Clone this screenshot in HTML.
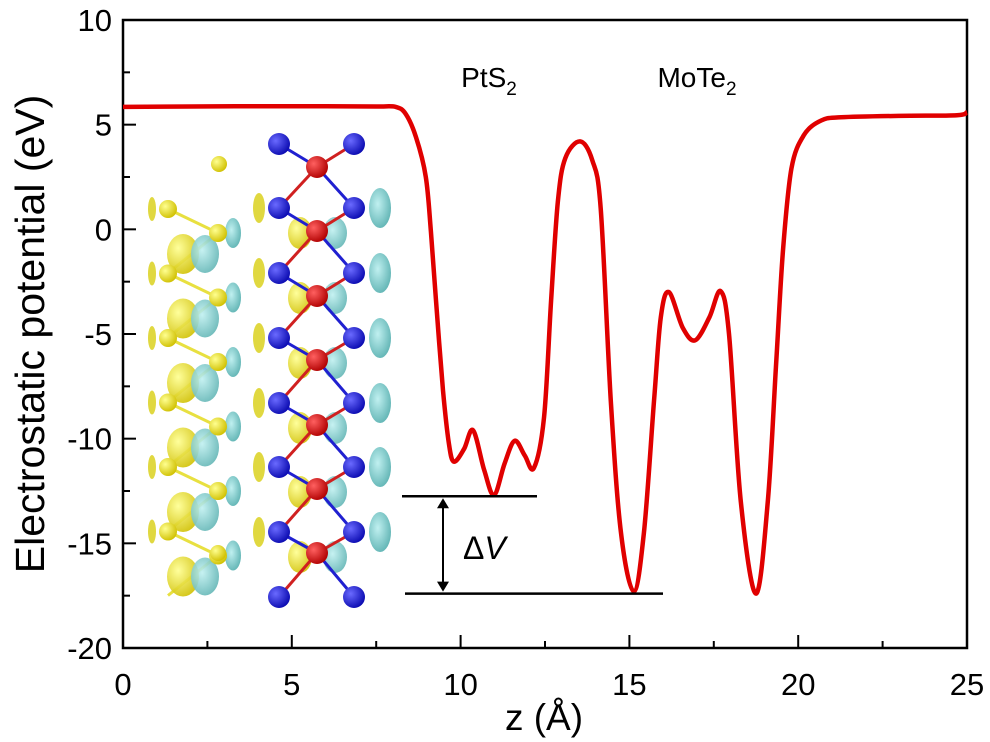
<!DOCTYPE html>
<html><head><meta charset="utf-8"><style>
html,body{margin:0;padding:0;background:#fff;}
svg{display:block;font-family:"Liberation Sans",Arial,sans-serif;}
</style></head><body>
<svg id="chart" width="990" height="742" viewBox="0 0 990 742" xmlns="http://www.w3.org/2000/svg">
<g id="inset"></g>
<g id="axes"></g>
<path id="curve" fill="none" stroke="#e00000" stroke-width="4.5" stroke-linejoin="round"/>
<g id="annot"></g>
<text x="489" y="87" font-size="28" text-anchor="middle">PtS<tspan font-size="19" dy="8">2</tspan></text>
<text x="697" y="87" font-size="28" text-anchor="middle">MoTe<tspan font-size="19" dy="8">2</tspan></text>
<text x="544" y="730" font-size="37" text-anchor="middle">z (Å)</text>
<text transform="translate(44,334) rotate(-90)" font-size="41" text-anchor="middle">Electrostatic potential (eV)</text>
</svg>
<script>
const zValues=[0,2,4,6,7.5,8.08,8.38,8.68,8.97,9.12,9.27,9.48,9.65,9.8,10.1,10.37,10.7,10.99,11.3,11.6,11.9,12.17,12.47,12.68,12.88,13.1,13.54,13.9,14.15,14.45,14.75,15.13,15.43,15.73,15.93,16.17,16.58,16.95,17.37,17.7,17.95,18.3,18.75,19.1,19.34,19.55,19.8,20.17,20.68,21.27,23,24.7,25];
const vValues=[5.85,5.87,5.88,5.88,5.87,5.85,5.5,4.4,2.5,-0.1,-3.4,-7.7,-10.2,-11.1,-10.5,-9.6,-11.5,-12.7,-11.2,-10.1,-10.8,-11.4,-9,-3.4,1.3,3.4,4.2,3.3,1.0,-8.2,-14.5,-17.3,-14.5,-8.2,-4.2,-3.0,-4.7,-5.3,-4.2,-2.95,-5,-13,-17.4,-13,-6.6,-1,2.9,4.5,5.2,5.35,5.42,5.45,5.6];
const xTicks=[0,5,10,15,20,25];
const yTicks=[10,5,0,-5,-10,-15,-20];
const vLevels=[-12.75,-17.4];
const X0=123,X1=967,Y0=648,Y1=20;
const xs=z=>X0+(z-0)/25*(X1-X0);
const ys=v=>Y0-(v+20)/30*(Y0-Y1);
const NS="http://www.w3.org/2000/svg";
function mk(tag,attrs,parent){const e=document.createElementNS(NS,tag);for(const k in attrs)e.setAttribute(k,attrs[k]);parent.appendChild(e);return e;}
const axes=document.getElementById('axes');
const frame=mk('rect',{x:X0,y:Y1,width:X1-X0,height:Y0-Y1,fill:'none',stroke:'#000','stroke-width':2.5},axes);


xTicks.forEach((t,i)=>{
  const tk=mk('line',{x1:xs(t),x2:xs(t),y1:Y0,y2:Y0-13,stroke:'#000','stroke-width':2},axes);
  
  
  if(i<xTicks.length-1){const m=mk('line',{x1:xs(t+2.5),x2:xs(t+2.5),y1:Y0,y2:Y0-7,stroke:'#000','stroke-width':2},axes);
  
  }
  const lb=mk('text',{x:xs(t),y:695,'font-size':31,'text-anchor':'middle'},axes);lb.textContent=t;
  
  
});
yTicks.forEach((t,i)=>{
  const tk=mk('line',{x1:X0,x2:X0+13,y1:ys(t),y2:ys(t),stroke:'#000','stroke-width':2},axes);
  
  
  if(i<yTicks.length-1){const m=mk('line',{x1:X0,x2:X0+7,y1:ys(t-2.5),y2:ys(t-2.5),stroke:'#000','stroke-width':2},axes);
  
  }
  const lb=mk('text',{x:112,y:ys(t)+11,'font-size':31,'text-anchor':'end'},axes);lb.textContent=t;
  
  
});
const pts=zValues.map((z,i)=>[xs(z),ys(vValues[i])]);
let d='M'+pts[0][0]+','+pts[0][1];
for(let i=0;i<pts.length-1;i++){const p0=pts[Math.max(i-1,0)],p1=pts[i],p2=pts[i+1],p3=pts[Math.min(i+2,pts.length-1)];
 const c1=[p1[0]+(p2[0]-p0[0])/6,p1[1]+(p2[1]-p0[1])/6],c2=[p2[0]-(p3[0]-p1[0])/6,p2[1]-(p3[1]-p1[1])/6];
 d+=' C'+c1[0].toFixed(1)+','+c1[1].toFixed(1)+' '+c2[0].toFixed(1)+','+c2[1].toFixed(1)+' '+p2[0].toFixed(1)+','+p2[1].toFixed(1);}
document.getElementById('curve').setAttribute('d',d);
const an=document.getElementById('annot');
const l1=mk('line',{x1:402,x2:537,y1:ys(vLevels[0]),y2:ys(vLevels[0]),stroke:'#000','stroke-width':2.5},an);


const l2=mk('line',{x1:405,x2:663,y1:ys(vLevels[1]),y2:ys(vLevels[1]),stroke:'#000','stroke-width':2.5},an);


const ar=mk('line',{x1:443,x2:443,y1:ys(vLevels[0])+4,y2:ys(vLevels[1])-4,stroke:'#000','stroke-width':2},an);


mk('path',{d:`M437,${ys(vLevels[0])+12} L443,${ys(vLevels[0])+2} L449,${ys(vLevels[0])+12}Z M437,${ys(vLevels[1])-12} L443,${ys(vLevels[1])-2} L449,${ys(vLevels[1])-12}Z`,fill:'#000'},an);
const dv=mk('text',{x:463,y:559,'font-size':32},an);dv.innerHTML='Δ<tspan font-style="italic">V</tspan>';


const ins=document.getElementById('inset');
const defs=mk('defs',{},ins);
defs.innerHTML='<radialGradient id="gb" cx="0.35" cy="0.35" r="0.7"><stop offset="0" stop-color="#6a6aff"/><stop offset="1" stop-color="#0a0ab0"/></radialGradient><radialGradient id="gr" cx="0.35" cy="0.35" r="0.7"><stop offset="0" stop-color="#ff6060"/><stop offset="1" stop-color="#b00000"/></radialGradient><radialGradient id="gy" cx="0.35" cy="0.35" r="0.7"><stop offset="0" stop-color="#ffff90"/><stop offset="1" stop-color="#d0c000"/></radialGradient><radialGradient id="gc" cx="0.4" cy="0.4" r="0.7"><stop offset="0" stop-color="#c0f0f0"/><stop offset="1" stop-color="#5ab0b0"/></radialGradient>';
const blueY=[144,208,273,338,403,467,532,597],redY=[167,231,296,360,425,489,553];
let h='';
for(let k=0;k<6;k++){const y=209+k*64.5;
 h+=`<line x1="168" y1="${y}" x2="218" y2="${y+24}" stroke="#e8e040" stroke-width="3"/><line x1="218" y1="${y+24}" x2="168" y2="${y+64}" stroke="#e8e040" stroke-width="3"/>`;
 h+=`<ellipse cx="183" cy="${y+45}" rx="16" ry="20" fill="url(#gy)" opacity="0.9"/><ellipse cx="205" cy="${y+45}" rx="14" ry="19" fill="url(#gc)" opacity="0.9"/>`;
 h+=`<ellipse cx="233" cy="${y+24}" rx="8" ry="15" fill="url(#gc)"/><ellipse cx="152" cy="${y}" rx="4" ry="12" fill="#e0d840"/>`;
 h+=`<circle cx="168" cy="${y}" r="9" fill="url(#gy)"/><circle cx="218" cy="${y+24}" r="9" fill="url(#gy)"/>`;}
h+=`<circle cx="219" cy="164" r="8" fill="url(#gy)"/><circle cx="218" cy="553" r="8" fill="url(#gy)"/>`;
blueY.forEach((y,i)=>{if(i>0&&i<7){h+=`<ellipse cx="259" cy="${y}" rx="6" ry="15" fill="#e0d840"/><ellipse cx="380" cy="${y}" rx="11" ry="20" fill="url(#gc)"/><ellipse cx="300" cy="${y+25}" rx="12" ry="16" fill="url(#gy)" opacity="0.9"/><ellipse cx="335" cy="${y+25}" rx="12" ry="16" fill="url(#gc)" opacity="0.9"/>`;}});
redY.forEach((y,i)=>{h+=`<line x1="317" y1="${y}" x2="279" y2="${blueY[i]}" stroke="#2020d0" stroke-width="3"/><line x1="317" y1="${y}" x2="354" y2="${blueY[i]}" stroke="#d02020" stroke-width="3"/><line x1="317" y1="${y}" x2="279" y2="${blueY[i+1]}" stroke="#d02020" stroke-width="3"/><line x1="317" y1="${y}" x2="354" y2="${blueY[i+1]}" stroke="#2020d0" stroke-width="3"/>`;});
blueY.forEach(y=>{h+=`<circle cx="279" cy="${y}" r="11" fill="url(#gb)"/><circle cx="354" cy="${y}" r="11" fill="url(#gb)"/>`;});
redY.forEach(y=>{h+=`<circle cx="317" cy="${y}" r="11" fill="url(#gr)"/>`;});
ins.innerHTML+=h;
</script>
</body></html>
